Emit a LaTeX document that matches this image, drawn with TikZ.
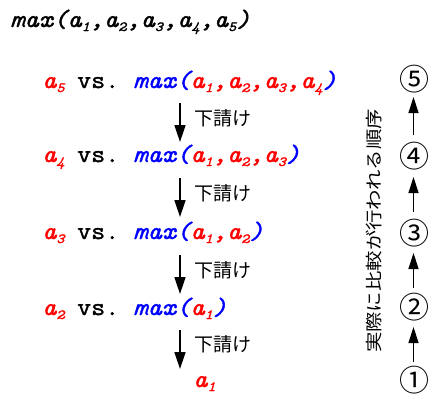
\documentclass[tikz,border=0pt]{standalone}
\usepackage{fontspec}
\usetikzlibrary{arrows.meta}
\newfontfamily\jpfont{Noto Sans CJK JP}
\newfontfamily\jpwide{Noto Sans CJK JP}[FakeStretch=1.2]
\newfontfamily\monofont{Latin Modern Mono}[FakeBold=1.5,FakeStretch=1.09]
\definecolor{myred}{RGB}{255,0,0}
\definecolor{myblue}{RGB}{0,0,255}
\newcommand\ak[1]{a\raisebox{-4pt}{\fontsize{14}{14}\selectfont #1}}
\tikzset{
  expr/.style={font=\monofont\fontsize{25}{25}\selectfont\itshape, inner sep=0pt, anchor=base west},
  vstext/.style={font=\monofont\fontsize{25}{25}\selectfont, inner sep=0pt, anchor=base west},
  lab/.style={font=\jpfont\fontsize{19}{19}\selectfont, inner sep=0pt, anchor=west},
  vlab/.style={font=\jpwide\fontsize{17}{17}\selectfont, inner sep=0pt, anchor=center, rotate=90},
  num/.style={font=\jpfont\fontsize{30}{30}\selectfont, inner sep=0pt},
  dn/.style={line width=1.6pt, -{Triangle[length=17pt,width=11pt]}},
  up/.style={line width=1.3pt, -{Triangle[length=16pt,width=10pt]}}
}
\begin{document}
\begin{tikzpicture}[x=1pt,y=-1pt]
\useasboundingbox (0,0) rectangle (429,394);
\node[expr] (title) at (10,27) {max(\ak1,\ak2,\ak3,\ak4,\ak5)};
% row 1
\node[expr, text=myred] (l5) at (42,88) {\ak5};
\node[vstext] (v5) at (77,88) {vs.};
\node[expr, text=myblue] (m5) at (133,88) {max(\textcolor{myred}{\ak1,\ak2,\ak3,\ak4})};
% row 2
\node[expr, text=myred] (l4) at (42,162) {\ak4};
\node[vstext] (v4) at (77,162) {vs.};
\node[expr, text=myblue] (m4) at (133,162) {max(\textcolor{myred}{\ak1,\ak2,\ak3})};
% row 3
\node[expr, text=myred] (l3) at (42,239) {\ak3};
\node[vstext] (v3) at (77,239) {vs.};
\node[expr, text=myblue] (m3) at (133,239) {max(\textcolor{myred}{\ak1,\ak2})};
% row 4
\node[expr, text=myred] (l2) at (42,315) {\ak2};
\node[vstext] (v2) at (77,315) {vs.};
\node[expr, text=myblue] (m2) at (133,315) {max(\textcolor{myred}{\ak1})};
% final
\node[expr, text=myred] (l1) at (193,387) {\ak1};
% down arrows
\coordinate (s1) at (180,103); \coordinate (e1) at (180,142);
\coordinate (s2) at (180,178); \coordinate (e2) at (180,217);
\coordinate (s3) at (180,255); \coordinate (e3) at (180,294);
\coordinate (s4) at (180,330); \coordinate (e4) at (180,369);
\draw[dn] (s1) -- (e1);
\draw[dn] (s2) -- (e2);
\draw[dn] (s3) -- (e3);
\draw[dn] (s4) -- (e4);
\node[lab] (t1) at (194,118) {下請け};
\node[lab] (t2) at (194,193) {下請け};
\node[lab] (t3) at (194,270) {下請け};
\node[lab] (t4) at (194,344) {下請け};
% right column
\node[num] (c5) at (414.5,79.5) {⑤};
\node[num] (c4) at (414.5,156) {④};
\node[num] (c3) at (414.5,233) {③};
\node[num] (c2) at (414.5,307) {②};
\node[num] (c1) at (414.5,380) {①};
\coordinate (u1s) at (413.5,362); \coordinate (u1e) at (413.5,327);
\coordinate (u2s) at (413.5,288); \coordinate (u2e) at (413.5,253);
\coordinate (u3s) at (413.5,212); \coordinate (u3e) at (413.5,177);
\coordinate (u4s) at (413.5,135); \coordinate (u4e) at (413.5,97);
\draw[up] (u1s) -- (u1e);
\draw[up] (u2s) -- (u2e);
\draw[up] (u3s) -- (u3e);
\draw[up] (u4s) -- (u4e);
\node[vlab] (order) at (374,231) {実際に比較が行われる順序};
\end{tikzpicture}
\end{document}
